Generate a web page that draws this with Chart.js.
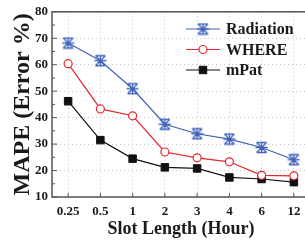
<!DOCTYPE html>
<html>
<head>
<meta charset="utf-8">
<script src="https://cdn.jsdelivr.net/npm/chart.js@4/dist/chart.umd.min.js"></script>
<style>
  html, body { margin: 0; padding: 0; background: #fff; }
  #wrap { width: 305px; height: 242px; overflow: hidden; }
</style>
</head>
<body>
<div id="wrap"><canvas id="chart" width="320" height="242"></canvas></div>
<script>
const slotLengths = ['0.25', '0.5', '1', '2', '3', '4', '6', '12'];
const radiation = [68.2, 61.5, 50.9, 37.5, 33.9, 31.9, 28.7, 24.1];
const where = [60.4, 43.3, 40.7, 27.0, 24.8, 23.3, 18.2, 18.0];
const mpat = [46.2, 31.5, 24.5, 21.2, 20.8, 17.4, 16.8, 15.6];
const yTicks = [10, 20, 30, 40, 50, 60, 70, 80];

const serif = "'Liberation Serif', 'Times New Roman', serif";
const axisColor = '#555';
const blue = '#3f62b8';

// hourglass-with-cross marker used for Radiation
function hourglass(color) {
  const c = document.createElement('canvas');
  c.width = 13; c.height = 13;
  const g = c.getContext('2d');
  g.strokeStyle = color;
  g.lineWidth = 1.3;
  g.beginPath();
  g.moveTo(1.5, 1.5); g.lineTo(11.5, 11.5);
  g.moveTo(11.5, 1.5); g.lineTo(1.5, 11.5);
  g.moveTo(1.5, 1.5); g.lineTo(11.5, 1.5);
  g.moveTo(1.5, 11.5); g.lineTo(11.5, 11.5);
  g.moveTo(6.5, 1.5); g.lineTo(6.5, 11.5);
  g.moveTo(0.5, 6.5); g.lineTo(12.5, 6.5);
  g.stroke();
  return c;
}
const radMarker = hourglass(blue);

// frame, inward ticks and a line+marker legend
const decor = {
  id: 'decor',
  afterDraw(chart) {
    const ctx = chart.ctx;
    const a = chart.chartArea;
    const x = chart.scales.x, y = chart.scales.y;
    ctx.save();
    ctx.strokeStyle = axisColor;
    ctx.lineWidth = 1.5;
    ctx.strokeRect(a.left, a.top, a.right - a.left, a.bottom - a.top);
    ctx.lineWidth = 1;
    ctx.beginPath();
    for (let v = 10; v <= 80; v += 5) {
      const py = y.getPixelForValue(v);
      const len = v % 10 === 0 ? 5 : 3;
      ctx.moveTo(a.left, py); ctx.lineTo(a.left + len, py);
    }
    slotLengths.forEach((s, i) => {
      const px = x.getPixelForValue(i);
      ctx.moveTo(px, a.bottom); ctx.lineTo(px, a.bottom - 4);
    });
    ctx.stroke();

    // legend
    ctx.font = 'bold 16px ' + serif;
    ctx.textBaseline = 'middle';
    chart.data.datasets.forEach((ds, i) => {
      const ly = 29 + i * 20.5;
      ctx.strokeStyle = ds.borderColor;
      ctx.lineWidth = 1.2;
      ctx.beginPath();
      ctx.moveTo(186, ly); ctx.lineTo(220, ly);
      ctx.stroke();
      ctx.fillStyle = ds.pointBackgroundColor;
      ctx.strokeStyle = ds.pointBorderColor;
      ctx.lineWidth = ds.pointBorderWidth;
      Chart.helpers.drawPoint(ctx, {pointStyle: ds.pointStyle, radius: ds.pointRadius, rotation: 0, borderWidth: ds.pointBorderWidth}, 203, ly);
      ctx.fillStyle = '#1a1a1a';
      ctx.fillText(ds.label, 226, ly + 1);
    });
    ctx.restore();
  }
};

new Chart(document.getElementById('chart'), {
  type: 'line',
  data: {
    labels: slotLengths,
    datasets: [
      {
        label: 'Radiation', data: radiation,
        borderColor: blue, borderWidth: 1.2,
        pointStyle: radMarker, pointRadius: 6, pointBorderWidth: 1.3,
        pointBorderColor: blue, pointBackgroundColor: blue
      },
      {
        label: 'WHERE', data: where,
        borderColor: '#e8262d', borderWidth: 1.2,
        pointStyle: 'circle', pointRadius: 4, pointBorderWidth: 1.2,
        pointBorderColor: '#e8262d', pointBackgroundColor: '#fff'
      },
      {
        label: 'mPat', data: mpat,
        borderColor: '#111', borderWidth: 1.2,
        pointStyle: 'rect', pointRadius: 5.3, pointBorderWidth: 1,
        pointBorderColor: '#111', pointBackgroundColor: '#111'
      }
    ]
  },
  options: {
    responsive: false,
    animation: false,
    layout: { padding: { top: 8, right: 10, left: 0, bottom: 0 } },
    plugins: { legend: { display: false }, tooltip: { enabled: false } },
    scales: {
      x: {
        offset: true,
        afterFit: s => { s.height = 45; },
        grid: { color: '#c8c8c8', drawTicks: false, offset: false, lineWidth: 1 },
        border: { display: false, dash: [1, 3] },
        ticks: { color: '#1a1a1a', padding: 7, maxRotation: 0, font: { family: serif, size: 13, weight: 'bold' } },
        title: { display: true, text: 'Slot Length (Hour)', color: '#1a1a1a', padding: { top: 0, bottom: 2 }, font: { family: serif, size: 18, weight: 'bold' } }
      },
      y: {
        min: 10, max: 80,
        afterFit: s => { s.width = 52; },
        afterBuildTicks: s => { s.ticks = yTicks.map(v => ({ value: v })); },
        grid: { color: '#c8c8c8', drawTicks: false, lineWidth: 1 },
        border: { display: false, dash: [1, 3] },
        ticks: { color: '#1a1a1a', padding: 4, font: { family: serif, size: 13, weight: 'bold' } },
        title: { display: true, text: 'MAPE (Error %)', color: '#1a1a1a', padding: { top: 8, bottom: 0 }, font: { family: serif, size: 24, weight: 'bold' } }
      }
    }
  },
  plugins: [decor]
});
</script>
</body>
</html>
